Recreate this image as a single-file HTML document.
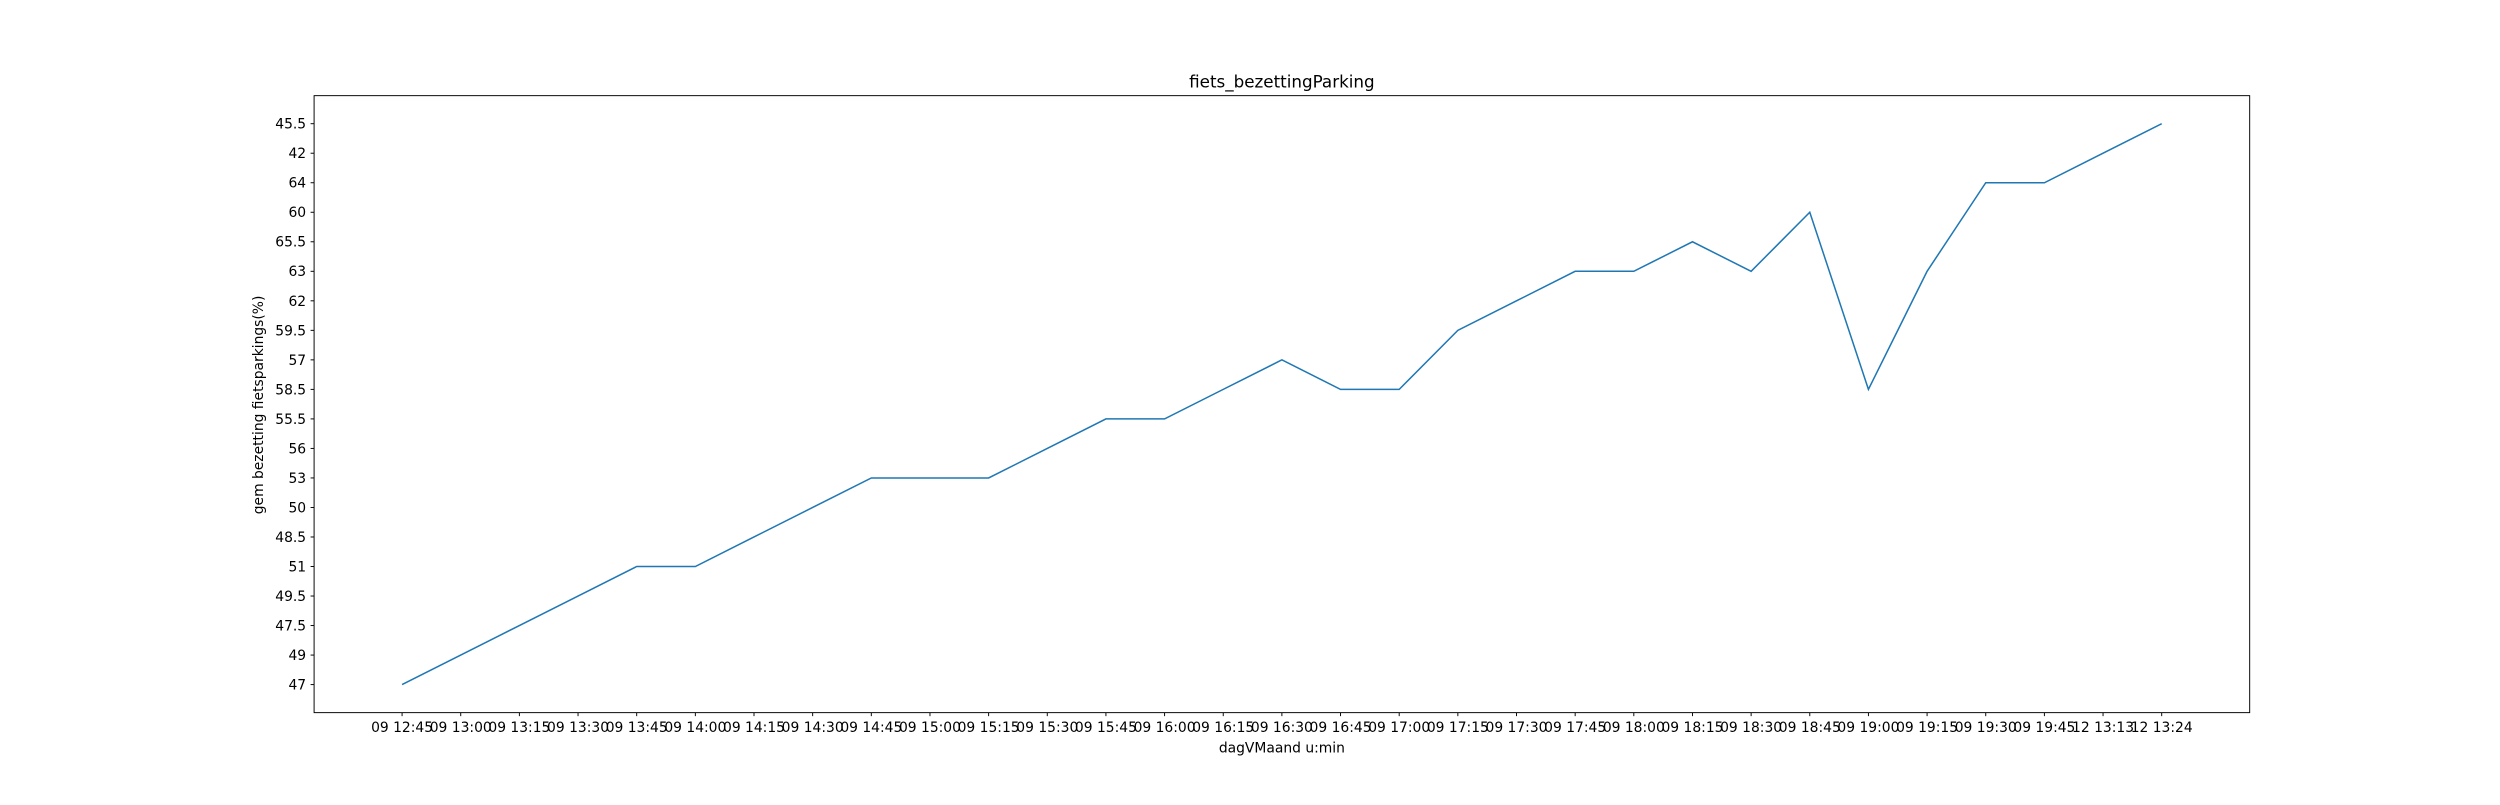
<!DOCTYPE html>
<html><head><meta charset="utf-8"><style>
body{margin:0;background:#fff;}
svg text{font-family:"DejaVu Sans","Liberation Sans",sans-serif;font-size:8.7px;fill:#000;}
</style></head><body>
<svg id="chart" width="2500" height="800" viewBox="0 0 1568 501.8" preserveAspectRatio="none" xmlns="http://www.w3.org/2000/svg">
<rect width="1568" height="502" fill="#fff"/>
<text x="804" y="55" text-anchor="middle" style="font-size:10.5px">fiets_bezettingParking</text>
<rect x="197" y="60" width="1214" height="387" fill="none" stroke="#000" stroke-width="0.6"/>
<g id="xt"></g><g id="yt"></g>
<text x="804" y="472" text-anchor="middle">dagVMaand u:min</text>
<text transform="translate(165,254) rotate(-90)" text-anchor="middle">gem bezetting fietsparkings(%)</text>
<path id="ln" fill="none" stroke="#1f77b4" stroke-width="0.95"/>
</svg>
<script>
const xCats=["09 12:45","09 13:00","09 13:15","09 13:30","09 13:45","09 14:00","09 14:15","09 14:30","09 14:45","09 15:00","09 15:15","09 15:30","09 15:45","09 16:00","09 16:15","09 16:30","09 16:45","09 17:00","09 17:15","09 17:30","09 17:45","09 18:00","09 18:15","09 18:30","09 18:45","09 19:00","09 19:15","09 19:30","09 19:45","12 13:13","12 13:24"];
const yCats=["47","49","47.5","49.5","51","48.5","50","53","56","55.5","58.5","57","59.5","62","63","65.5","60","64","42","45.5"];
const values=["47","49","47.5","49.5","51","51","48.5","50","53","53","53","56","55.5","55.5","58.5","57","58.5","58.5","59.5","62","63","63","65.5","63","60","58.5","63","64","64","42","45.5"];
const L=197,R=1411,T=60,B=447,NS="http://www.w3.org/2000/svg";
const nx=xCats.length,ny=yCats.length;
function xs(i){const m=(nx-1)*0.05;return L+(i+m)/(nx-1+2*m)*(R-L);}
function ys(v){const i=yCats.indexOf(v);const m=(ny-1)*0.05;return B-(i+m)/(ny-1+2*m)*(B-T);}
const xt=document.getElementById('xt'),yt=document.getElementById('yt');
xCats.forEach((c,i)=>{const x=xs(i);
 const l=document.createElementNS(NS,'line');l.setAttribute('x1',x);l.setAttribute('x2',x);l.setAttribute('y1',B);l.setAttribute('y2',B+2.2);l.setAttribute('stroke','#000');l.setAttribute('stroke-width','0.6');
 
 xt.appendChild(l);
 const t=document.createElementNS(NS,'text');t.setAttribute('x',x);t.setAttribute('y',B+12);t.setAttribute('text-anchor','middle');t.textContent=c;
 
 xt.appendChild(t);});
yCats.forEach((c)=>{const y=ys(c);
 const l=document.createElementNS(NS,'line');l.setAttribute('x1',L-2.2);l.setAttribute('x2',L);l.setAttribute('y1',y);l.setAttribute('y2',y);l.setAttribute('stroke','#000');l.setAttribute('stroke-width','0.6');
 
 yt.appendChild(l);
 const t=document.createElementNS(NS,'text');t.setAttribute('x',L-5);t.setAttribute('y',y+3.1);t.setAttribute('text-anchor','end');t.textContent=c;
 
 yt.appendChild(t);});
document.getElementById('ln').setAttribute('d',values.map((v,i)=>(i?'L':'M')+xs(i)+','+ys(v)).join(' '));
</script>
</body></html>
